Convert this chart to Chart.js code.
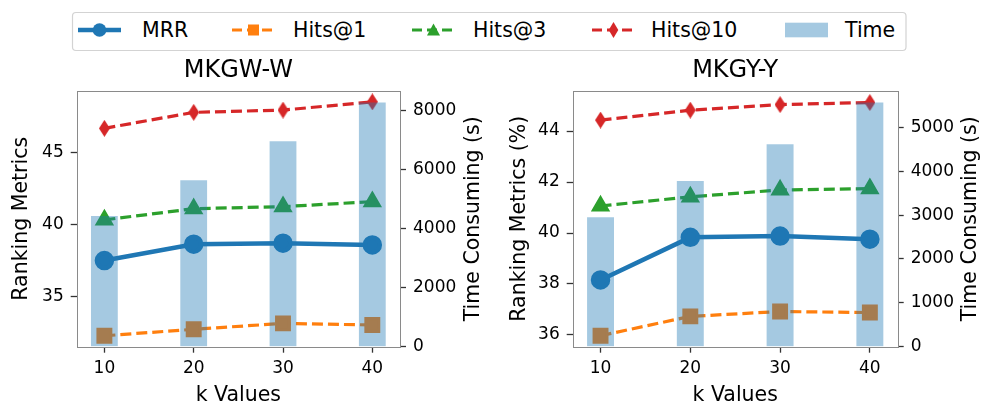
<!DOCTYPE html>
<html>
<head>
<meta charset="utf-8">
<script src="https://cdn.jsdelivr.net/npm/chart.js@4.4.1/dist/chart.umd.min.js"></script>
<style>
  body { margin: 0; background: #fff; width: 996px; height: 418px; overflow: hidden; position: relative; }
  #legend { position: absolute; left: 0; top: 0; }
  .panel { position: absolute; top: 56px; width: 498px; height: 362px; }
</style>
</head>
<body>
<svg id="legend" width="996" height="56" font-family="DejaVu Sans" font-size="20.5"></svg>
<div class="panel" style="left:0"><canvas id="chart-w" width="498" height="362"></canvas></div>
<div class="panel" style="left:498px"><canvas id="chart-y" width="498" height="362"></canvas></div>
<script>
// k values on the x axis
const kValues = [10, 20, 30, 40];
const seriesNames = ["MRR", "Hits@1", "Hits@3", "Hits@10", "Time"];

// MKGW-W
const mrrW = [37.47, 38.61, 38.68, 38.56];
const hits1W = [32.24, 32.69, 33.10, 32.99];
const hits3W = [40.30, 41.08, 41.22, 41.57];
const hits10W = [46.67, 47.78, 47.94, 48.51];
const timeW = [4420, 5630, 6950, 8260];

// MKGY-Y
const mrrY = [38.16, 39.83, 39.88, 39.76];
const hits1Y = [35.97, 36.73, 36.92, 36.88];
const hits3Y = [41.06, 41.42, 41.69, 41.74];
const hits10Y = [44.43, 44.82, 45.04, 45.12];
const timeY = [2950, 3780, 4615, 5565];

// tick labels
const rankTicksW = [35, 40, 45];
const timeTicksW = [0, 2000, 4000, 6000, 8000];
const rankTicksY = [36, 38, 40, 42, 44];
const timeTicksY = [0, 1000, 2000, 3000, 4000, 5000];

const FONT = '"DejaVu Sans", sans-serif';
const colors = {
  mrr: '#1f77b4',
  hits1: '#ff7f0e',
  hits3: '#2ca02c',
  hits10: '#d62728',
  time: 'rgba(31,119,180,0.4)'
};

// thin diamond marker like matplotlib's 'd'
function thinDiamond(color, w, h) {
  const c = document.createElement('canvas');
  c.width = w;
  c.height = h;
  const g = c.getContext('2d');
  g.fillStyle = color;
  g.beginPath();
  g.moveTo(w / 2, 0);
  g.lineTo(w, h / 2);
  g.lineTo(w / 2, h);
  g.lineTo(0, h / 2);
  g.closePath();
  g.fill();
  return c;
}
const diamondImg = thinDiamond(colors.hits10, 11, 17);

function points(values) {
  return kValues.map((k, i) => ({x: k, y: values[i]}));
}

// frame around the plot area and the right axis title (reads bottom to top)
const panelPlugin = {
  id: 'panelFrame',
  afterDraw(chart, args, opts) {
    const {ctx, chartArea: a} = chart;
    ctx.save();
    ctx.strokeStyle = '#8a8a8a';
    ctx.lineWidth = 1;
    ctx.strokeRect(Math.round(a.left) + 0.5, Math.round(a.top) + 0.5,
      Math.round(a.right) - Math.round(a.left), Math.round(a.bottom) - Math.round(a.top));
    ctx.translate(opts.titleX, (a.top + a.bottom) / 2);
    ctx.rotate(-Math.PI / 2);
    ctx.font = '20.5px ' + FONT;
    ctx.fillStyle = '#000';
    ctx.textAlign = 'center';
    ctx.textBaseline = 'middle';
    ctx.fillText(opts.text, 0, 0);
    ctx.restore();
  }
};

const tickGrid = {drawOnChartArea: false, offset: false, tickLength: 6, tickWidth: 1.3, tickColor: '#333'};

function makeChart(id, cfg) {
  const lineDash = [11, 5];
  const ctx = document.getElementById(id).getContext('2d');
  return new Chart(ctx, {
    type: 'line',
    plugins: [panelPlugin],
    data: {
      datasets: [
        {
          type: 'bar',
          label: 'Time',
          data: points(cfg.time),
          yAxisID: 'yt',
          backgroundColor: colors.time,
          borderWidth: 0,
          barPercentage: 0.3,
          categoryPercentage: 1,
          order: 0
        },
        {
          label: 'MRR',
          data: points(cfg.mrr),
          borderColor: colors.mrr,
          backgroundColor: colors.mrr,
          borderWidth: 4.5,
          pointStyle: 'circle',
          pointRadius: 7.5,
          order: 1
        },
        {
          label: 'Hits@1',
          data: points(cfg.hits1),
          borderColor: colors.hits1,
          backgroundColor: colors.hits1,
          borderWidth: 3.2,
          borderDash: lineDash,
          pointStyle: 'rect',
          pointRadius: 9,
          order: 2
        },
        {
          label: 'Hits@3',
          data: points(cfg.hits3),
          borderColor: colors.hits3,
          backgroundColor: colors.hits3,
          borderWidth: 3.2,
          borderDash: lineDash,
          pointStyle: 'triangle',
          pointRadius: 8,
          order: 3
        },
        {
          label: 'Hits@10',
          data: points(cfg.hits10),
          borderColor: colors.hits10,
          backgroundColor: colors.hits10,
          borderWidth: 3.2,
          borderDash: lineDash,
          pointStyle: diamondImg,
          pointRadius: 8,
          order: 4
        }
      ]
    },
    options: {
      responsive: false,
      animation: false,
      events: [],
      layout: {padding: 0},
      elements: {
        line: {tension: 0},
        point: {borderWidth: 0}
      },
      scales: {
        x: {
          type: 'linear',
          offset: false,
          min: 6.9,
          max: 43.1,
          afterBuildTicks: s => { s.ticks = kValues.map(v => ({value: v})); },
          afterFit: s => { s.height = 71.3; },
          grid: tickGrid,
          border: {display: false},
          ticks: {
            color: '#000',
            padding: 6,
            maxRotation: 0,
            font: {family: FONT, size: 17},
            callback: v => String(v)
          },
          title: {
            display: true,
            text: 'k Values',
            color: '#000',
            font: {family: FONT, size: 20.5},
            padding: {top: 0, bottom: 9.7}
          }
        },
        y: {
          position: 'left',
          min: cfg.rankMin,
          max: cfg.rankMax,
          afterBuildTicks: s => { s.ticks = cfg.rankTicks.map(v => ({value: v})); },
          afterFit: s => { s.width = cfg.leftW; },
          grid: tickGrid,
          border: {display: false},
          ticks: {
            color: '#000',
            padding: 7,
            font: {family: FONT, size: 17},
            callback: v => String(v)
          },
          title: {
            display: true,
            text: cfg.yTitle,
            color: '#000',
            font: {family: FONT, size: 20.5},
            padding: {top: 9.7, bottom: 0}
          }
        },
        yt: {
          position: 'right',
          min: 0,
          max: cfg.timeMax,
          afterBuildTicks: s => { s.ticks = cfg.timeTicks.map(v => ({value: v})); },
          afterFit: s => { s.width = cfg.rightW; },
          grid: tickGrid,
          border: {display: false},
          ticks: {
            color: '#000',
            padding: 7,
            font: {family: FONT, size: 17},
            callback: v => String(v)
          }
        }
      },
      plugins: {
        legend: {display: false},
        tooltip: {enabled: false},
        title: {
          display: true,
          text: cfg.title,
          color: '#000',
          fullSize: false,
          font: {family: FONT, size: 24, weight: 'normal'},
          padding: {top: 0, bottom: 6}
        },
        panelFrame: {text: 'Time Consuming (s)', titleX: cfg.rightTitleX}
      }
    }
  });
}

makeChart('chart-w', {
  title: 'MKGW-W',
  yTitle: 'Ranking Metrics',
  mrr: mrrW, hits1: hits1W, hits3: hits3W, hits10: hits10W, time: timeW,
  rankMin: 31.48, rankMax: 49.28, rankTicks: rankTicksW,
  timeMax: 8652, timeTicks: timeTicksW,
  leftW: 76.7, rightW: 98, rightTitleX: 473.4
});

makeChart('chart-y', {
  title: 'MKGY-Y',
  yTitle: 'Ranking Metrics (%)',
  mrr: mrrY, hits1: hits1Y, hits3: hits3Y, hits10: hits10Y, time: timeY,
  rankMin: 35.54, rankMax: 45.58, rankTicks: rankTicksY,
  timeMax: 5834, timeTicks: timeTicksY,
  leftW: 74.7, rightW: 98.3, rightTitleX: 472.2
});

// shared legend across both panels
(function buildLegend() {
  const svg = document.getElementById('legend');
  const NS = 'http://www.w3.org/2000/svg';
  function el(tag, attrs) {
    const e = document.createElementNS(NS, tag);
    for (const k in attrs) e.setAttribute(k, attrs[k]);
    svg.appendChild(e);
    return e;
  }
  el('rect', {x: 72.5, y: 12.5, width: 833.5, height: 38, rx: 3.5, fill: '#fff', stroke: '#d3d3d3', 'stroke-width': 1.2});
  const cy = 30;
  const items = [
    {x: 78, textX: 142, color: colors.mrr, dash: null, width: 4.5, marker: 'circle'},
    {x: 232, textX: 293, color: colors.hits1, dash: '10 5', width: 3.2, marker: 'square'},
    {x: 412, textX: 473, color: colors.hits3, dash: '10 5', width: 3.2, marker: 'triangle'},
    {x: 592, textX: 651, color: colors.hits10, dash: '10 5', width: 3.2, marker: 'diamond'},
    {x: 785, textX: 845, color: colors.time, marker: 'patch'}
  ];
  items.forEach((it, i) => {
    const mx = it.x + 21.5;
    if (it.marker === 'patch') {
      el('rect', {x: it.x, y: 22.7, width: 43, height: 14.6, fill: it.color});
    } else {
      const line = el('line', {x1: it.x, y1: cy, x2: it.x + 43, y2: cy, stroke: it.color, 'stroke-width': it.width});
      if (it.dash) line.setAttribute('stroke-dasharray', it.dash);
      if (it.marker === 'circle') {
        el('circle', {cx: mx, cy: cy, r: 6.8, fill: it.color});
      } else if (it.marker === 'square') {
        el('rect', {x: mx - 5.5, y: cy - 5.5, width: 11, height: 11, fill: it.color});
      } else if (it.marker === 'triangle') {
        el('polygon', {points: `${mx},${cy - 6.5} ${mx + 6.5},${cy + 5.5} ${mx - 6.5},${cy + 5.5}`, fill: it.color});
      } else if (it.marker === 'diamond') {
        el('polygon', {points: `${mx},${cy - 8} ${mx + 4.8},${cy} ${mx},${cy + 8} ${mx - 4.8},${cy}`, fill: it.color});
      }
    }
    const t = el('text', {x: it.textX, y: cy, 'dominant-baseline': 'central', fill: '#000'});
    t.textContent = seriesNames[i];
  });
})();
</script>
</body>
</html>
